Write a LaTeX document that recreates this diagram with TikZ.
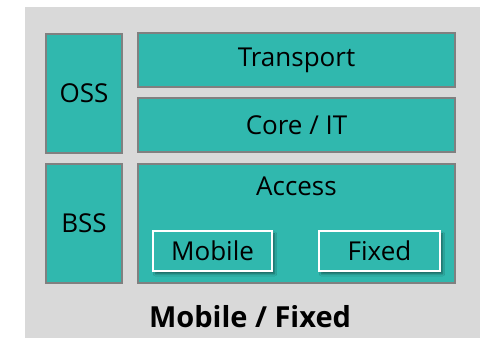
\documentclass[tikz,border=0pt]{standalone}
\usepackage{fontspec}
\setmainfont{Open Sans}
\usetikzlibrary{shadows.blur}

\definecolor{teal}{RGB}{48,184,174}
\definecolor{panel}{RGB}{217,217,217}
\definecolor{rim}{RGB}{128,128,128}

\tikzset{
  block/.style={draw=rim, line width=2pt, fill=teal, inner sep=0pt,
    font=\fontsize{26}{30}\selectfont},
  sub/.style={draw=white, line width=1.8pt, fill=teal, inner sep=0pt,
    minimum height=40pt, font=\fontsize{26}{30}\selectfont,
    blur shadow={shadow xshift=2.5pt, shadow yshift=-3pt,
      shadow blur steps=6, shadow opacity=45}}
}

\begin{document}
\begin{tikzpicture}[x=1pt,y=1pt]

% Frame
\useasboundingbox (0,0) rectangle (480,338);
\fill[panel] (25,0) rectangle (480,331);

% Left column
\node[block, minimum width=76pt, minimum height=119pt] (oss) at (84,244.5) {OSS};
\node[block, minimum width=76pt, minimum height=119pt] (bss) at (84,114.5) {BSS};

% Right column
\node[block, minimum width=317pt, minimum height=54pt] (transport) at (296.5,278) {Transport};
\node[block, minimum width=317pt, minimum height=54pt] (core) at (296.5,213) {Core / IT};
\node[block, minimum width=317pt, minimum height=119pt] (access) at (296.5,114.5) {};
\node[font=\fontsize{26}{30}\selectfont] (accesslabel) at (296.5,152) {Access};

% Access types
\node[sub, minimum width=119pt] (mobile) at (212.5,87) {Mobile};
\node[sub, minimum width=121pt] (fixed) at (379.5,87) {Fixed};

% Caption
\node[font=\fontsize{29}{34}\selectfont\bfseries] (caption) at (250,21) {Mobile / Fixed};

\end{tikzpicture}
\end{document}
